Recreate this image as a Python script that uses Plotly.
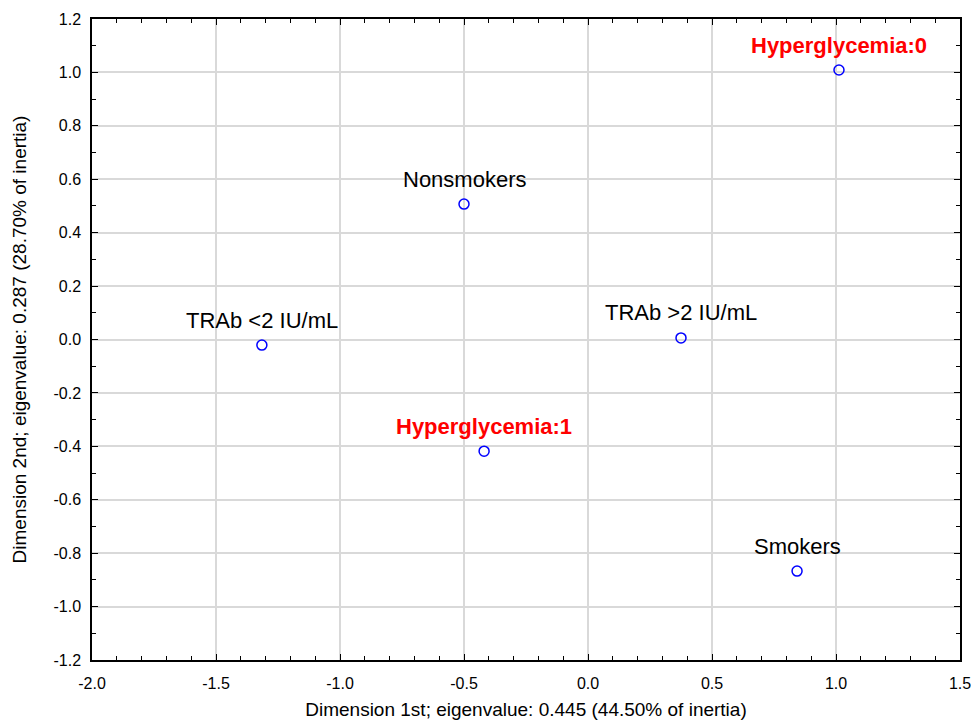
import plotly.graph_objects as go

labels = ["Hyperglycemia:0", "Nonsmokers", "TRAb <2 IU/mL", "TRAb >2 IU/mL", "Hyperglycemia:1", "Smokers"]
dim1 = [1.012, -0.50, -1.315, 0.375, -0.419, 0.843]
dim2 = [1.009, 0.507, -0.021, 0.006, -0.418, -0.867]
label_colors = ["#ff0000", "black", "black", "black", "#ff0000", "black"]
label_bold = [True, False, False, False, True, False]

x_tickvals = [-2.0, -1.5, -1.0, -0.5, 0.0, 0.5, 1.0, 1.5]
x_ticktext = ["-2.0", "-1.5", "-1.0", "-0.5", "0.0", "0.5", "1.0", "1.5"]
y_tickvals = [-1.2, -1.0, -0.8, -0.6, -0.4, -0.2, 0.0, 0.2, 0.4, 0.6, 0.8, 1.0, 1.2]
y_ticktext = ["-1.2", "-1.0", "-0.8", "-0.6", "-0.4", "-0.2", "0.0", "0.2", "0.4", "0.6", "0.8", "1.0", "1.2"]

FONT = "Liberation Sans, Arial, sans-serif"

fig = go.Figure()
fig.add_trace(go.Scatter(
    x=dim1, y=dim2, mode="markers",
    marker=dict(symbol="circle-open", size=10, color="#0000ff", line=dict(width=1.5, color="#0000ff")),
    hoverinfo="skip", showlegend=False,
))

for lab, xv, yv, c, b in zip(labels, dim1, dim2, label_colors, label_bold):
    fig.add_annotation(
        x=xv, y=yv, text=f"<b>{lab}</b>" if b else lab, showarrow=False,
        yshift=25, xanchor="center", yanchor="middle",
        font=dict(family=FONT, size=22, color=c),
    )

axis_common = dict(
    showline=True, linecolor="black", linewidth=1.5, mirror="allticks",
    ticks="inside", ticklen=6, tickcolor="black", tickwidth=1,
    showgrid=True, gridcolor="#d9d9d9", gridwidth=1.5, zeroline=False,
    tickfont=dict(family=FONT, size=16, color="black"),
    automargin=False, ticklabeloverflow="allow",
)

fig.update_xaxes(
    range=[-2.0, 1.5], tickmode="array", tickvals=x_tickvals, ticktext=x_ticktext,
    ticklabelstandoff=8,
    minor=dict(dtick=0.1, tick0=-2.0, ticks="inside", ticklen=4, tickcolor="black", showgrid=False),
    title=dict(text="Dimension 1st; eigenvalue: 0.445 (44.50% of inertia)",
               font=dict(family=FONT, size=19, color="black"), standoff=18),
    **axis_common,
)
fig.update_yaxes(
    range=[-1.2, 1.2], tickmode="array", tickvals=y_tickvals, ticktext=y_ticktext,
    ticklabelstandoff=6,
    minor=dict(dtick=0.1, tick0=-1.2, ticks="inside", ticklen=4, tickcolor="black", showgrid=False),
    title=dict(text="Dimension 2nd; eigenvalue: 0.287 (28.70% of inertia)",
               font=dict(family=FONT, size=19, color="black"), standoff=22),
    **axis_common,
)

fig.update_layout(
    width=971, height=720,
    margin=dict(l=92, r=11, t=19, b=60),
    plot_bgcolor="white", paper_bgcolor="white",
)

fig.write_html(
    "out.html",
    config={"displayModeBar": False},
    post_script="document.body.style.margin='0';document.body.style.overflow='hidden';",
)
